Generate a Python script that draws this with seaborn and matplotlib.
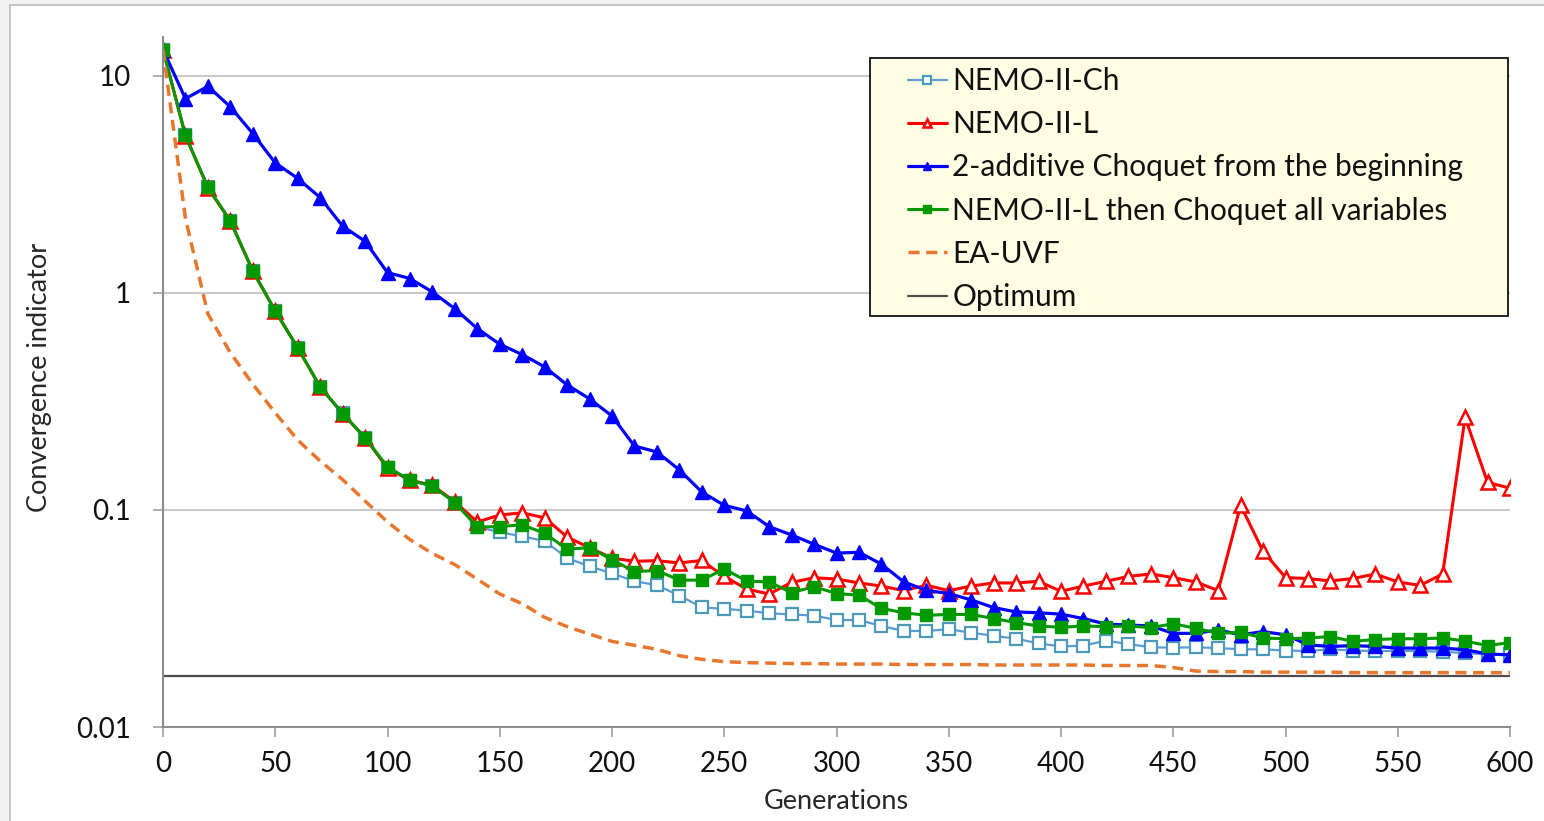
import matplotlib
matplotlib.use("Agg")
import matplotlib.pyplot as plt
import seaborn as sns
from matplotlib.patches import Rectangle
from matplotlib.ticker import NullLocator, FixedLocator, FixedFormatter

# ---------------- data ----------------
generations = list(range(0, 601, 10))

nemo_ii_ch = [13.2, 5.35, 3.08, 2.15, 1.26, 0.826, 0.558, 0.369, 0.28, 0.215,
              0.156, 0.136, 0.129, 0.108, 0.0835, 0.079, 0.0755, 0.072, 0.060, 0.055,
              0.051, 0.047, 0.045, 0.0403, 0.0356, 0.035, 0.0344, 0.0334, 0.033, 0.0326,
              0.0311, 0.0311, 0.0292, 0.0277, 0.0277, 0.0282, 0.0272, 0.0263, 0.0255, 0.0243,
              0.0235, 0.0237, 0.025, 0.0241, 0.0233, 0.0232, 0.0233, 0.0231, 0.0228, 0.0228,
              0.0225, 0.0224, 0.0228, 0.0225, 0.0224, 0.0224, 0.0224, 0.0222, 0.0219, 0.0216,
              0.0216]

nemo_ii_l = [13.2, 5.3, 3.05, 2.14, 1.26, 0.825, 0.558, 0.369, 0.278, 0.215,
             0.156, 0.137, 0.13, 0.109, 0.088, 0.0948, 0.097, 0.092, 0.075, 0.067,
             0.06, 0.058, 0.0584, 0.057, 0.0585, 0.0494, 0.0432, 0.041, 0.0464, 0.0487,
             0.0481, 0.0461, 0.0446, 0.0425, 0.045, 0.0425, 0.0446, 0.0461, 0.0461, 0.0469,
             0.0422, 0.0446, 0.0469, 0.0494, 0.0507, 0.0488, 0.0466, 0.0425, 0.105, 0.0645,
             0.0488, 0.0483, 0.0471, 0.0483, 0.0507, 0.0466, 0.0449, 0.0507, 0.267, 0.134,
             0.126]

choquet_2add = [13.2, 7.85, 8.95, 7.2, 5.42, 3.97, 3.37, 2.75, 2.03, 1.73,
                1.24, 1.165, 1.01, 0.845, 0.685, 0.58, 0.52, 0.456, 0.377, 0.325,
                0.271, 0.197, 0.185, 0.153, 0.121, 0.105, 0.099, 0.0838, 0.0767, 0.0695,
                0.0633, 0.0638, 0.0563, 0.0466, 0.0426, 0.0412, 0.0385, 0.0355, 0.0339, 0.0336,
                0.0331, 0.0316, 0.0298, 0.0295, 0.0292, 0.027, 0.027, 0.028, 0.0266, 0.0275,
                0.0266, 0.0239, 0.0235, 0.0237, 0.0235, 0.0231, 0.0231, 0.0231, 0.0227, 0.0217,
                0.0215]

nemo_l_then_choquet = [13.2, 5.32, 3.06, 2.15, 1.265, 0.826, 0.559, 0.369, 0.278, 0.215,
                       0.158, 0.137, 0.129, 0.108, 0.0835, 0.0838, 0.0855, 0.078, 0.066, 0.067,
                       0.059, 0.052, 0.0526, 0.0475, 0.0475, 0.0535, 0.047, 0.0466, 0.0416, 0.0443,
                       0.0412, 0.0405, 0.0352, 0.0336, 0.0327, 0.033, 0.033, 0.0316, 0.0303, 0.0292,
                       0.0288, 0.0292, 0.029, 0.0292, 0.0287, 0.0299, 0.0285, 0.027, 0.0273, 0.0257,
                       0.0255, 0.0257, 0.0261, 0.0248, 0.0253, 0.0255, 0.0255, 0.0257, 0.0249, 0.0237,
                       0.0245]

ea_uvf = [13.2, 2.2, 0.8, 0.53, 0.38, 0.28, 0.21, 0.168, 0.138, 0.11,
          0.088, 0.073, 0.063, 0.056, 0.048, 0.041, 0.037, 0.032, 0.029, 0.0268,
          0.0248, 0.0238, 0.0228, 0.0213, 0.0205, 0.0200, 0.0198, 0.0197, 0.0196, 0.0196,
          0.0195, 0.0195, 0.0195, 0.0194, 0.0194, 0.0194, 0.0194, 0.0193, 0.0193, 0.0193,
          0.0193, 0.0193, 0.0192, 0.0192, 0.0192, 0.0188, 0.0181, 0.018, 0.018, 0.0179,
          0.0179, 0.0179, 0.0179, 0.0178, 0.0178, 0.0178, 0.0178, 0.0178, 0.0178, 0.0178,
          0.0178]

optimum_value = 0.0171

series_labels = ["NEMO-II-Ch", "NEMO-II-L", "2-additive Choquet from the beginning",
                 "NEMO-II-L then Choquet all variables", "EA-UVF", "Optimum"]

y_ticks = [0.01, 0.1, 1, 10]
y_tick_labels = ["0.01", "0.1", "1", "10"]
x_ticks = list(range(0, 601, 50))

# ---------------- style ----------------
sns.set_style("white")
plt.rcParams['font.family'] = ['Lato', 'DejaVu Sans']
plt.rcParams['text.color'] = '#111111'

W, H = 1544, 821
fig = plt.figure(figsize=(W / 100, H / 100), dpi=100, facecolor='#F2F2F2')
fig.patches.append(Rectangle((10 / W, -0.01), 1.0, 1.01 - 5 / H, transform=fig.transFigure,
                             facecolor='white', edgecolor='#BDBDBD', lw=1.2, zorder=-10))

ax_l, ax_r, ax_t, ax_b = 163, 1510, 37, 727
ax = fig.add_axes([ax_l / W, (H - ax_b) / H, (ax_r - ax_l) / W, (ax_b - ax_t) / H])
ax.set_facecolor('none')

def draw(y, **kw):
    sns.lineplot(x=generations, y=y, ax=ax, legend=False, errorbar=None, **kw)

draw(nemo_ii_ch, color='#5B9BD5', lw=1.6, marker='s', markersize=8.5,
     markerfacecolor='white', markeredgecolor='#4A9AB8', markeredgewidth=1.6,
     label=series_labels[0])
draw(nemo_ii_l, color='#FF0000', lw=2.2, marker='^', markersize=10.5,
     markerfacecolor='white', markeredgecolor='#FF0000', markeredgewidth=1.8,
     label=series_labels[1])
draw(choquet_2add, color='#0000FF', lw=2.3, marker='^', markersize=10.5,
     markerfacecolor='#0000FF', markeredgecolor='#0000FF', markeredgewidth=1.0,
     label=series_labels[2])
draw(nemo_l_then_choquet, color='#009A00', lw=2.2, marker='s', markersize=8.5,
     markerfacecolor='#009A00', markeredgecolor='#009A00', markeredgewidth=1.0,
     label=series_labels[3])
draw(ea_uvf, color='#E8772E', lw=2.5, linestyle=(0, (3.2, 1.9)),
     label=series_labels[4])
sns.lineplot(x=[generations[0], generations[-1]], y=[optimum_value, optimum_value], ax=ax,
             color='#4D4D4D', lw=1.6, legend=False, errorbar=None, label=series_labels[5])

ax.set_yscale('log')
ax.set_xlim(0, 600)
ax.set_ylim(0.01, 15.1)
ax.yaxis.set_major_locator(FixedLocator(y_ticks))
ax.yaxis.set_major_formatter(FixedFormatter(y_tick_labels))
ax.yaxis.set_minor_locator(NullLocator())
ax.set_xticks(x_ticks)
ax.set_xticklabels([str(v) for v in x_ticks])

ax.grid(False)
ax.yaxis.grid(True, color='#C9C9C9', lw=1.5, zorder=0)
ax.set_axisbelow(True)
for s in ['top', 'right']:
    ax.spines[s].set_visible(False)
for s in ['left', 'bottom']:
    ax.spines[s].set_color('#8C8C8C')
    ax.spines[s].set_linewidth(1.5)

ax.tick_params(axis='both', direction='out', length=7, width=1.3, color='#A6A6A6',
               labelsize=20, labelcolor='#111111')
ax.tick_params(axis='y', pad=16, left=True)
ax.tick_params(axis='x', pad=10, bottom=True)

ax.set_xlabel("Generations", fontsize=19.5)
ax.set_ylabel("Convergence indicator", fontsize=19.5)
ax.xaxis.set_label_coords(0.5, (ax_b - 789) / (ax_b - ax_t))
ax.yaxis.set_label_coords((52 - ax_l) / (ax_r - ax_l), 0.507)

# legend box
bx0, bx1, by0, by1 = 870, 1508, 58, 316
ax.add_patch(Rectangle(((bx0 - ax_l) / (ax_r - ax_l), (ax_b - by1) / (ax_b - ax_t)),
                       (bx1 - bx0) / (ax_r - ax_l), (by1 - by0) / (ax_b - ax_t),
                       transform=ax.transAxes, facecolor='#FFFDE3', edgecolor='#111111',
                       lw=1.3, zorder=4, clip_on=False))
handles, labels = ax.get_legend_handles_labels()
leg = ax.legend(handles, labels, loc='upper left',
                bbox_to_anchor=((908 - ax_l) / (ax_r - ax_l), (ax_b - 67) / (ax_b - ax_t)),
                frameon=False, fontsize=21.5, handlelength=1.3, handletextpad=0.18,
                labelspacing=0.51, borderpad=0, borderaxespad=0)
leg.set_zorder(5)
for h in leg.legend_handles:
    h.set_markersize(5.5)

fig.savefig("out.png", dpi=100, facecolor=fig.get_facecolor())
